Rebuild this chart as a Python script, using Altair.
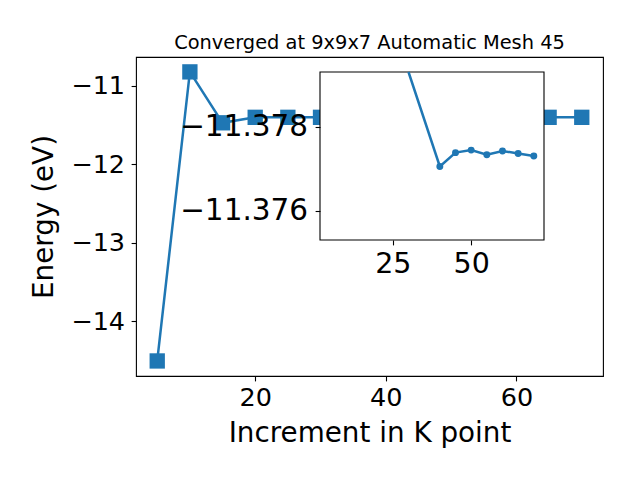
import altair as alt
import pandas as pd

# main series
k_main = [5, 10, 15, 20, 25, 30, 35, 40, 45, 50, 55, 60, 65, 70]
e_main = [-14.51, -10.82, -11.47, -11.40, -11.40, -11.40, -11.40,
          -11.40, -11.40, -11.40, -11.40, -11.40, -11.40, -11.40]

# inset (zoomed) series
k_inset = [30, 40, 45, 50, 55, 60, 65, 70]
e_inset = [-11.3795, -11.37705, -11.37738, -11.37744, -11.37733,
           -11.37742, -11.37736, -11.3773]

# inset view limits
inset_x_lim = [1.75, 73.25]
inset_y_lim = [-11.3793, -11.3753]

main_x_ticks = [20, 40, 60]
main_y_ticks = [-14, -13, -12, -11]
inset_x_ticks = [25, 50]
inset_y_ticks = [-11.378, -11.376]

df_main = pd.DataFrame({"K": k_main, "E": e_main})
df_inset = pd.DataFrame({"K": k_inset, "E": e_inset})
df_frame = pd.DataFrame({"x0": [inset_x_lim[0]], "x1": [inset_x_lim[1]],
                         "y0": [inset_y_lim[0]], "y1": [inset_y_lim[1]]})

BLUE = "#1f77b4"
FONT = "DejaVu Sans"
MINUS = "replace(datum.label, '-', '\u2212')"

sx_main = alt.Scale(domain=[1.75, 73.25], zero=False, nice=False)
sy_main = alt.Scale(domain=[-14.702, -10.630], zero=False, nice=False)

ax_x_main = alt.Axis(title="Increment in K point", values=main_x_ticks, labelExpr=MINUS,
                     labelFontSize=25.5, titleFontSize=27.8, titlePadding=8)
ax_y_main = alt.Axis(title="Energy (eV)", values=main_y_ticks, labelExpr=MINUS,
                     labelFontSize=25.5, titleFontSize=27.8, titlePadding=12,
                     labelPadding=6.5)

X_main = alt.X("K:Q", scale=sx_main, axis=ax_x_main)
Y_main = alt.Y("E:Q", scale=sy_main, axis=ax_y_main)

main_line = alt.Chart(df_main).mark_line(color=BLUE, strokeWidth=2.5).encode(x=X_main, y=Y_main)
main_pts = alt.Chart(df_main).mark_point(shape="square", filled=True, size=235,
                                         opacity=1, color=BLUE).encode(x=X_main, y=Y_main)
main_layer = alt.layer(main_line, main_pts)

# inset scales mapped onto a sub-rectangle of the plot
sx_in = alt.Scale(domain=inset_x_lim, range=[184, 408], zero=False, nice=False)
sy_in = alt.Scale(domain=inset_y_lim, range=[15, 183], zero=False, nice=False, clamp=True)

ax_x_in = alt.Axis(title=None, values=inset_x_ticks, orient="bottom", offset=-136,
                   labelFontSize=28.5, domain=False, zindex=1, labelExpr=MINUS)
ax_y_in = alt.Axis(title=None, values=inset_y_ticks, orient="left", offset=-184,
                   format=".3f", labelFontSize=29.5, domain=False, zindex=1, labelExpr=MINUS,
                   labelPadding=7.5)

frame = alt.Chart(df_frame).mark_rect(fill="white", stroke="black", strokeWidth=1.1).encode(
    x=alt.X("x0:Q", scale=sx_in, axis=ax_x_in),
    x2="x1:Q",
    y=alt.Y("y0:Q", scale=sy_in, axis=ax_y_in),
    y2="y1:Q",
)
X_in = alt.X("K:Q", scale=sx_in, axis=ax_x_in)
Y_in = alt.Y("E:Q", scale=sy_in, axis=ax_y_in)
inset_line = alt.Chart(df_inset).mark_line(color=BLUE, strokeWidth=2.5).encode(x=X_in, y=Y_in)
inset_pts = alt.Chart(df_inset).transform_filter(
    alt.datum.E >= inset_y_lim[0]
).mark_circle(size=48, opacity=1, color=BLUE).encode(x=X_in, y=Y_in)
inset_layer = alt.layer(frame, inset_line, inset_pts)

chart = alt.layer(main_layer, inset_layer).resolve_scale(
    x="independent", y="independent"
).properties(
    width=467,
    height=319,
    title=alt.TitleParams("Converged at 9x9x7 Automatic Mesh 45", fontSize=19.4, font=FONT,
                          fontWeight="normal", anchor="middle", frame="group",
                          baseline="alphabetic", offset=-11, color="black"),
    autosize=alt.AutoSizeParams(type="none"),
    padding={"left": 128, "top": 49, "right": 20, "bottom": 80},
).configure_view(
    stroke="black", strokeWidth=1.1
).configure_axis(
    labelFont=FONT, titleFont=FONT, labelColor="black", titleColor="black",
    titleFontWeight="normal", tickColor="black", tickSize=4.9, tickWidth=1.1,
    labelPadding=4.9, grid=False, domain=False, labelFlush=False, labelOverlap=False,
    labelBound=False
)

chart.save("out.html", embed_options={"renderer": "svg", "actions": False})
